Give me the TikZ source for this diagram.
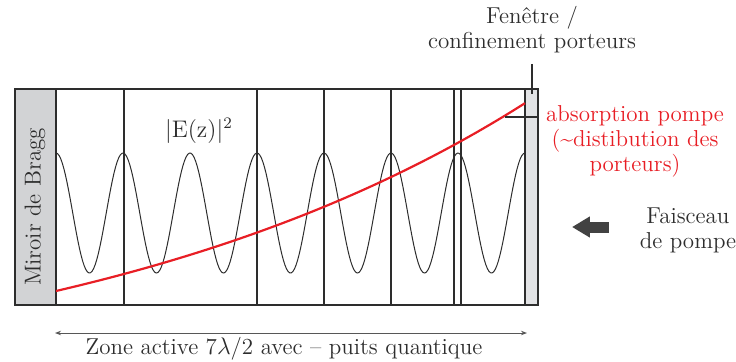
\documentclass[tikz,border=0pt]{standalone}
\usepackage{amsmath}
\usepackage{xcolor}
\usepackage{tikz}
\usetikzlibrary{arrows.meta, positioning}
\definecolor{txtgray}{RGB}{45,45,45}
\definecolor{cavred}{RGB}{232,30,37}
\definecolor{braggfill}{RGB}{210,211,213}
\definecolor{winfill}{RGB}{226,227,229}
\tikzstyle{label} = [text=txtgray, font=\fontsize{11.5}{12.5}\selectfont, align=center]
\tikzstyle{redlabel} = [text=cavred, font=\fontsize{11.5}{12.5}\selectfont, align=center]
\tikzstyle{leader} = [draw=txtgray, line width=0.6pt]

\begin{document}
\begin{tikzpicture}[
    x=0.5pt, y=-0.5pt,
    frame/.style={draw=txtgray, line width=0.8pt},
    wall/.style={draw=txtgray, line width=1pt},
    wave/.style={draw=txtgray, line width=0.5pt},
    absorb/.style={draw=cavred, line width=1.1pt},
    pump/.style={draw=txtgray!90, line width=5.5pt, -{Triangle[length=9pt, width=10pt]}},
    zone/.style={draw=txtgray!80, line width=0.5pt, {Stealth[length=3pt]}-{Stealth[length=3pt]}}
]
    \useasboundingbox (0,0) rectangle (736,361);

    % Mirror, window and outer frame
    \fill[braggfill] (15,89) rectangle (56,305);
    \fill[winfill] (525,89) rectangle (538,305);
    \draw[frame] (15,89) rectangle (538,305);
    \foreach \xpos in {56,124,257,324,391,454,461,525}
        \draw[wall] (\xpos,89) -- (\xpos,305);

    % Field intensity and pump absorption
    \draw[wave] plot[domain=56:525, samples=300] (\x, {213-60*cos(5.3731*(\x-56))});
    \draw[absorb] plot[domain=56:525, samples=100] (\x, {400-109*exp(0.00213*(\x-56))});

    % Labels
    \node[label, rotate=90] (bragg) at (35,207) {Miroir de Bragg};
    \node[label] (field) at (199,131) {$|\mathrm{E(z)}|^2$};
    \node[label, inner sep=1pt] (fenetre) at (532,30) {Fen\^etre /\\confinement porteurs};
    \node[redlabel] (absorption) at (635,141) {absorption pompe\\(\textasciitilde distibution des\\porteurs)};
    \node[label] (faisceau) at (688,230) {Faisceau\\de pompe};
    \node[label] (zonelabel) at (284,349) {Zone active 7$\lambda$/2 avec -- puits quantique};

    % Connections
    \coordinate (winmark) at (532,94);
    \coordinate (abspoint) at (505,117);
    \coordinate (pumptip) at (572,227);
    \coordinate (zoneL) at (55,333);
    \coordinate (zoneR) at (527,333);
    \draw[leader, shorten <=4pt] (fenetre.south) -- (fenetre.south |- winmark);
    \draw[leader] (abspoint) -- (abspoint -| absorption.west);
    \draw[pump] (faisceau.west) ++(-24,-3) -- (pumptip);
    \draw[zone] (zoneL) -- (zoneR);
\end{tikzpicture}
\end{document}
